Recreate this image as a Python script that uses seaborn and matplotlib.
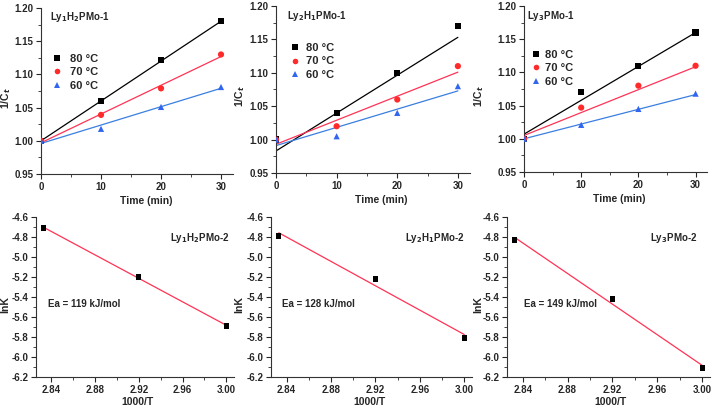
import numpy as np
import pandas as pd
import matplotlib.pyplot as plt
import matplotlib.ticker as mticker
import seaborn as sns

sns.set_theme(style="ticks")
plt.rcParams['font.family'] = ['Liberation Sans', 'DejaVu Sans']
plt.rcParams['font.weight'] = 'bold'
plt.rcParams['axes.labelweight'] = 'bold'

# ---- data: 1/Ct vs time ----
time_min = [0, 10, 20, 30]
temps = ['80 °C', '70 °C', '60 °C']

ly1_80 = [1.000, 1.060, 1.122, 1.180]
ly1_70 = [1.000, 1.039, 1.079, 1.130]
ly1_60 = [1.000, 1.018, 1.051, 1.081]

ly2_80 = [1.000, 1.040, 1.100, 1.170]
ly2_70 = [1.000, 1.020, 1.060, 1.110]
ly2_60 = [1.000, 1.005, 1.040, 1.080]

ly3_80 = [1.000, 1.070, 1.110, 1.160]
ly3_70 = [1.000, 1.047, 1.080, 1.110]
ly3_60 = [1.000, 1.021, 1.045, 1.068]

# fitted lines (intercept, slope)
ly1_fit_b = [1.000, 0.997, 0.996]
ly1_fit_k = [0.00600, 0.00433, 0.00277]
ly2_fit_b = [0.983, 0.993, 0.991]
ly2_fit_k = [0.00567, 0.00360, 0.00273]
ly3_fit_b = [1.007, 1.005, 1.000]
ly3_fit_k = [0.00510, 0.00345, 0.00222]

# ---- data: lnK vs 1000/T ----
inv_t = [2.833, 2.920, 3.000]
lnk_1 = [-4.71, -5.20, -5.69]
lnk_2 = [-4.79, -5.22, -5.81]
lnk_3 = [-4.83, -5.42, -6.11]

titles_top = ['Ly$_1$H$_2$PMo-1', 'Ly$_2$H$_1$PMo-1', 'Ly$_3$PMo-1']
titles_bot = ['Ly$_1$H$_2$PMo-2', 'Ly$_2$H$_1$PMo-2', 'Ly$_3$PMo-2']
ea_labels = ['Ea = 119 kJ/mol', 'Ea = 128 kJ/mol', 'Ea = 149 kJ/mol']

palette = {'80 °C': 'black', '70 °C': '#ff2b2b', '60 °C': '#3366ee'}
line_colors = {'80 °C': 'black', '70 °C': '#ff3355', '60 °C': '#3a7fe0'}
markers = {'80 °C': 's', '70 °C': 'o', '60 °C': '^'}

fig = plt.figure(figsize=(7.12, 4.08), dpi=100)
W, H = 712, 408


def px_axes(x0, x1, y0, y1):
    return fig.add_axes([x0 / W, 1 - y1 / H, (x1 - x0) / W, (y1 - y0) / H])


top_axes = [px_axes(41, 233, 8, 174), px_axes(276, 470, 6, 173), px_axes(524, 707, 6, 172)]
bot_axes = [px_axes(36, 234, 217, 377), px_axes(271, 472, 217, 377), px_axes(507, 710, 217, 377)]

top_series = [(ly1_80, ly1_70, ly1_60), (ly2_80, ly2_70, ly2_60), (ly3_80, ly3_70, ly3_60)]
top_fits = [(ly1_fit_b, ly1_fit_k), (ly2_fit_b, ly2_fit_k), (ly3_fit_b, ly3_fit_k)]
title_pos = [(0.047, 0.945), (0.057, 0.94), (0.015, 0.94)]
legend_pos = [(0.055, 0.723), (0.07, 0.778), (0.034, 0.735)]
legend_pad = [0.68, 0.47, 0.35]
top_ylab_x = [-0.145, -0.15, -0.21]
top_xlab_x = [0.55, 0.54, 0.52]
bot_ylab_x = [-0.131, -0.134, -0.118]
bot_xlab_x = [0.515, 0.49, 0.51]

for i, ax in enumerate(top_axes):
    rows = []
    for t, ys in zip(temps, top_series[i]):
        for x, y in zip(time_min, ys):
            rows.append({'time': x, 'inv_c': y, 'temp': t})
    df = pd.DataFrame(rows)

    # fitted lines
    b_list, k_list = top_fits[i]
    for t, b, k in zip(temps, b_list, k_list):
        xs = np.array([min(time_min), max(time_min)])
        ax.plot(xs, b + k * xs, color=line_colors[t], lw=0.9, zorder=2)

    sns.scatterplot(data=df, x='time', y='inv_c', hue='temp', style='temp',
                    palette=palette, markers=markers, s=20, edgecolor='none',
                    ax=ax, zorder=3)

    ax.set_xlim(0, 32)
    ax.set_ylim(0.95, 1.20)
    ax.xaxis.set_major_locator(mticker.MultipleLocator(10))
    ax.xaxis.set_minor_locator(mticker.MultipleLocator(5))
    ax.yaxis.set_major_locator(mticker.MultipleLocator(0.05))
    ax.yaxis.set_minor_locator(mticker.MultipleLocator(0.025))
    ax.yaxis.set_major_formatter(mticker.FormatStrFormatter('%.2f'))
    ax.set_xlabel('Time (min)', fontsize=7.5)
    ax.set_ylabel('1/C$_t$', fontsize=7.5)
    ax.xaxis.set_label_coords(top_xlab_x[i], -0.133)
    ax.yaxis.set_label_coords(top_ylab_x[i], 0.46)
    ax.text(title_pos[i][0], title_pos[i][1], titles_top[i], transform=ax.transAxes,
            fontsize=7, fontweight='bold', va='center', ha='left')
    ax.legend(loc='upper left', bbox_to_anchor=legend_pos[i], frameon=False,
              fontsize=8, handlelength=1.0, handletextpad=legend_pad[i],
              labelspacing=0.3, borderpad=0, borderaxespad=0, markerscale=0.9)

for i, ax in enumerate(bot_axes):
    lnk = [lnk_1, lnk_2, lnk_3][i]
    k, b = np.polyfit(inv_t, lnk, 1)
    xs = np.array([min(inv_t), max(inv_t)])
    ax.plot(xs, b + k * xs, color='#ff3355', lw=0.9, zorder=2)
    sns.scatterplot(x=inv_t, y=lnk, marker='s', color='black', s=14,
                    edgecolor='none', ax=ax, zorder=3)
    ax.set_xlim(2.826, 3.007)
    ax.set_ylim(-6.2, -4.6)
    ax.xaxis.set_major_locator(mticker.MultipleLocator(0.04))
    ax.xaxis.set_minor_locator(mticker.MultipleLocator(0.02))
    ax.yaxis.set_major_locator(mticker.MultipleLocator(0.2))
    ax.yaxis.set_minor_locator(mticker.MultipleLocator(0.1))
    ax.xaxis.set_major_formatter(mticker.FormatStrFormatter('%.2f'))
    ax.yaxis.set_major_formatter(mticker.FormatStrFormatter('%.1f'))
    ax.set_xlabel('1000/T', fontsize=7.5)
    ax.set_ylabel('lnK', fontsize=7.5)
    ax.xaxis.set_label_coords(bot_xlab_x[i], -0.125)
    ax.yaxis.set_label_coords(bot_ylab_x[i], 0.45)
    ax.text([0.98, 0.965, 0.936][i], 0.87, titles_bot[i], transform=ax.transAxes,
            fontsize=7, fontweight='bold', va='center', ha='right')
    ax.text([0.06, 0.055, 0.084][i], 0.456, ea_labels[i], transform=ax.transAxes,
            fontsize=7, fontweight='bold', va='center', ha='left')

for ax in top_axes + bot_axes:
    sns.despine(ax=ax)
    ax.tick_params(which='major', direction='out', length=3.5, width=0.8,
                   labelsize=7, pad=2)
    ax.tick_params(which='minor', direction='out', length=2, width=0.6)
    for s in ('left', 'bottom'):
        ax.spines[s].set_linewidth(0.8)
        ax.spines[s].set_color('#333333')
    for lab in ax.get_xticklabels() + ax.get_yticklabels():
        lab.set_fontweight('bold')

fig.savefig('out.png', dpi=100)
